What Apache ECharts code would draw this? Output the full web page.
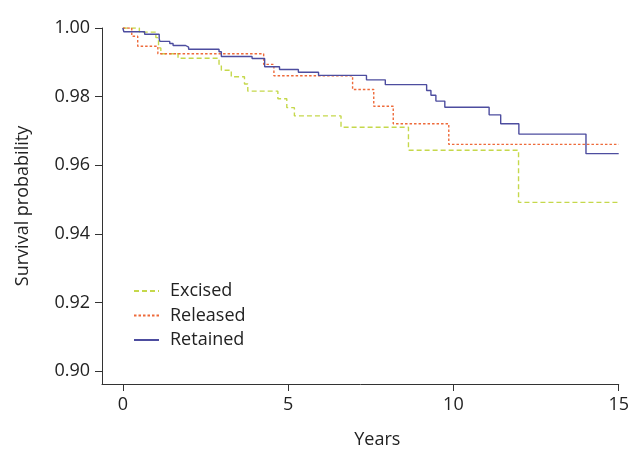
<!DOCTYPE html>
<html>
<head>
<meta charset="utf-8">
<script src="https://cdn.jsdelivr.net/npm/echarts@6/dist/echarts.min.js"></script>
<style>html,body{margin:0;padding:0;background:#fff}#c{width:632px;height:454px}</style>
</head>
<body>
<div id="c"></div>
<script>
var seriesNames = ['Excised', 'Released', 'Retained'];
var xTicks = [0, 5, 10, 15];
var yTicks = [0.90, 0.92, 0.94, 0.96, 0.98, 1.00];
// [years, survival probability]
var excised = [[0,1.0],[0.5,0.9988],[1.0,0.9972],[1.08,0.9942],[1.15,0.9925],[1.67,0.9912],[2.91,0.9894],[2.98,0.9877],[3.28,0.9858],[3.68,0.9837],[3.78,0.9816],[4.69,0.9794],[4.96,0.9768],[5.19,0.9744],[6.60,0.9711],[8.64,0.9644],[11.97,0.9492],[15,0.9492]];
var released = [[0,1.0],[0.27,0.9976],[0.45,0.9947],[1.06,0.9925],[4.26,0.9894],[4.57,0.9861],[6.95,0.9821],[7.59,0.9772],[8.18,0.9721],[9.86,0.9661],[15,0.9661]];
var retained = [[0,1.0],[0.03,0.9989],[0.66,0.9982],[1.10,0.9969],[1.12,0.9961],[1.42,0.9955],[1.52,0.9949],[1.90,0.9944],[1.99,0.9938],[2.91,0.9931],[2.98,0.9917],[3.91,0.9911],[4.29,0.9887],[4.74,0.9879],[5.31,0.9871],[5.92,0.9862],[7.37,0.9849],[7.94,0.9835],[9.19,0.9818],[9.32,0.9804],[9.47,0.9787],[9.74,0.9769],[11.08,0.9747],[11.43,0.9721],[11.98,0.9691],[14.01,0.9634],[15,0.9634]];

var FONT = 'Open Sans';
var chart = echarts.init(document.getElementById('c'));
chart.setOption({
  animation: false,
  grid: {left: 102, right: 12, top: 28, bottom: 63, containLabel: false},
  legend: {
    orient: 'vertical', left: 128, top: 277,
    itemWidth: 25, itemHeight: 14, itemGap: 6.5,
    itemStyle: {opacity: 0},
    textStyle: {fontFamily: FONT, fontSize: 18, color: '#222', padding: [0,0,0,6]},
    data: seriesNames
  },
  xAxis: {
    type: 'value', min: -0.63, max: 15,
    name: 'Years', nameLocation: 'middle', nameGap: 47,
    nameTextStyle: {fontFamily: FONT, fontSize: 18, color: '#222', padding: [0,0,0,34]},
    axisLine: {show: true, onZero: false, lineStyle: {color: '#333', width: 1}},
    axisTick: {show: true, length: 7, customValues: xTicks, lineStyle: {color: '#333'}},
    axisLabel: {customValues: xTicks, margin: 12, fontFamily: FONT, fontSize: 18, color: '#222'},
    splitLine: {show: false}
  },
  yAxis: {
    type: 'value', min: 0.8963, max: 1.0,
    name: 'Survival probability', nameLocation: 'middle', nameGap: 70,
    nameTextStyle: {fontFamily: FONT, fontSize: 18, color: '#222'},
    axisLine: {show: true, onZero: false, lineStyle: {color: '#333', width: 1}},
    axisTick: {show: true, length: 7, customValues: yTicks, lineStyle: {color: '#333'}},
    axisLabel: {customValues: yTicks, margin: 12, fontFamily: FONT, fontSize: 18, color: '#222',
      formatter: function (v) { return v.toFixed(2); }},
    splitLine: {show: false}
  },
  series: [
    {name: seriesNames[0], type: 'line', step: 'end', data: excised, symbol: 'none',
     lineStyle: {color: '#c5d84b', width: 1.4, type: [5, 3]}, itemStyle: {color: '#c5d84b'}},
    {name: seriesNames[1], type: 'line', step: 'end', data: released, symbol: 'none',
     lineStyle: {color: '#ee6a3a', width: 1.4, type: [2.5, 2]}, itemStyle: {color: '#ee6a3a'}},
    {name: seriesNames[2], type: 'line', step: 'end', data: retained, symbol: 'none',
     lineStyle: {color: '#4d4d9f', width: 1.4}, itemStyle: {color: '#4d4d9f'}}
  ]
});
</script>
</body>
</html>
